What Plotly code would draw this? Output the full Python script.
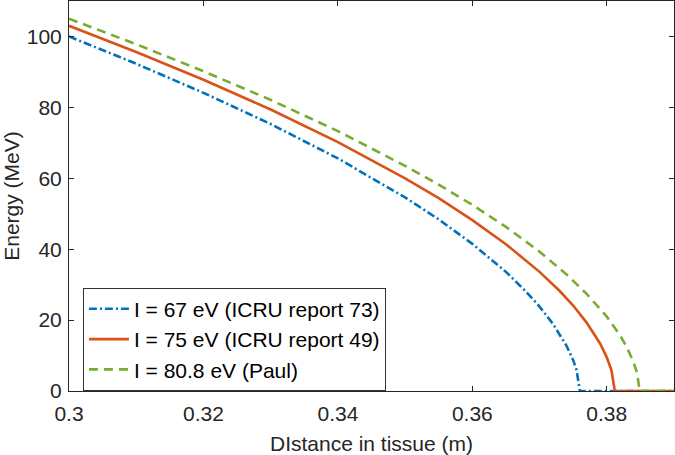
import plotly.graph_objects as go

# Distance in tissue (m) and energy (MeV)
x_blue = [0.300, 0.310, 0.320, 0.330, 0.340, 0.350, 0.355, 0.360, 0.365, 0.368, 0.370,
          0.372, 0.374, 0.375, 0.3755, 0.3760, 0.390]
e_blue = [100.0, 92.3, 84.1, 75.3, 65.6, 54.6, 48.4, 41.5, 33.6, 28.0, 23.8,
          18.9, 12.8, 8.7, 5.9, 0.0, 0.0]

x_red = [0.300, 0.310, 0.320, 0.328, 0.330, 0.340, 0.350, 0.355, 0.360, 0.365, 0.370,
         0.373, 0.375, 0.377, 0.379, 0.380, 0.3807, 0.3812, 0.390]
e_red = [103.0, 95.6, 87.8, 81.1, 79.4, 70.2, 60.0, 54.4, 48.2, 41.4, 33.6,
         28.2, 24.1, 19.3, 13.4, 9.5, 5.8, 0.0, 0.0]

x_green = [0.300, 0.310, 0.320, 0.330, 0.340, 0.350, 0.355, 0.360, 0.365, 0.370, 0.374,
           0.377, 0.380, 0.382, 0.383, 0.384, 0.3845, 0.3849, 0.390]
e_green = [105.0, 97.8, 90.2, 82.1, 73.3, 63.5, 58.2, 52.5, 46.3, 39.3, 32.9,
           27.4, 21.0, 15.6, 12.3, 8.0, 5.1, 0.0, 0.0]

names = ["I = 67 eV (ICRU report 73)", "I = 75 eV (ICRU report 49)", "I = 80.8 eV (Paul)"]
x_ticks = [0.30, 0.32, 0.34, 0.36, 0.38]
x_tick_labels = ["0.3", "0.32", "0.34", "0.36", "0.38"]
y_ticks = [0, 20, 40, 60, 80, 100]

FONT = "Liberation Sans, Arial, Helvetica, sans-serif"
AX = "#262626"

fig = go.Figure()
fig.add_trace(go.Scatter(x=x_blue, y=e_blue, mode="lines", name=names[0],
                         line=dict(color="#0072BD", width=2.6, dash="8px,3px,2px,3px")))
fig.add_trace(go.Scatter(x=x_red, y=e_red, mode="lines", name=names[1],
                         line=dict(color="#D95319", width=2.6)))
fig.add_trace(go.Scatter(x=x_green, y=e_green, mode="lines", name=names[2],
                         line=dict(color="#77AC30", width=2.6, dash="9px,6px")))

fig.update_layout(
    width=675, height=455,
    margin=dict(l=69, r=1, t=1, b=64, autoexpand=False),
    paper_bgcolor="white", plot_bgcolor="white",
    font=dict(family=FONT, size=21, color=AX),
    showlegend=True,
    legend=dict(x=0.023, y=0.265, xanchor="left", yanchor="top",
                bgcolor="white", bordercolor="#333333", borderwidth=1,
                font=dict(family=FONT, size=21, color="#000000"),
                tracegroupgap=0, itemwidth=40),
)
fig.update_xaxes(range=[0.3, 0.39], tickvals=x_ticks, ticktext=x_tick_labels,
                 ticks="inside", ticklen=5, tickcolor=AX, showline=True, linecolor=AX,
                 linewidth=1, mirror="ticks", showgrid=False, zeroline=False,
                 automargin=False, ticklabelstandoff=4,
                 title=dict(text="DIstance in tissue (m)", font=dict(size=21), standoff=12),
                 tickfont=dict(size=21))
fig.update_yaxes(range=[0, 110], tickvals=y_ticks, ticks="inside", ticklen=5, tickcolor=AX,
                 showline=True, linecolor=AX, linewidth=1, mirror="ticks", showgrid=False,
                 zeroline=False, automargin=False, ticklabelstandoff=2,
                 title=dict(text="Energy (MeV)", font=dict(size=21), standoff=5),
                 tickfont=dict(size=21))

fig.write_html("out.html", config={"displayModeBar": False},
               post_script="document.body.style.margin='0px';document.body.style.overflow='hidden';")
